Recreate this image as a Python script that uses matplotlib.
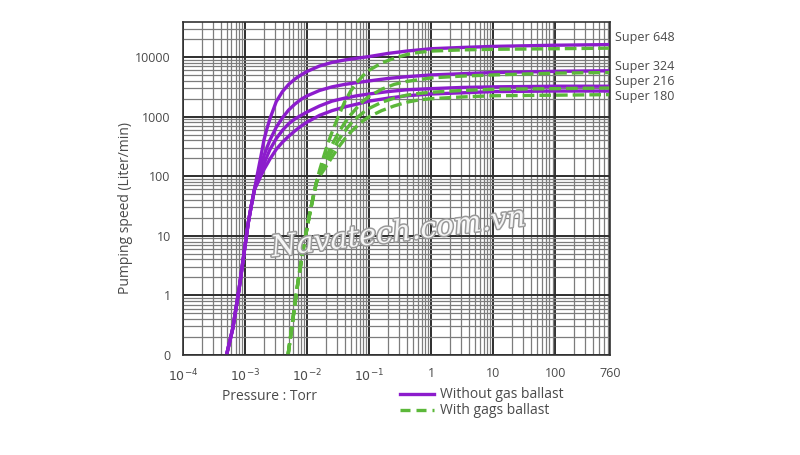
import matplotlib.pyplot as plt
import matplotlib.patheffects as pe
from matplotlib.ticker import LogLocator, FixedLocator, NullFormatter
import numpy as np

plt.rcParams["font.family"] = ["Open Sans", "DejaVu Sans"]

# pressure (Torr) / pumping speed (L/min)
models = ["Super 648", "Super 324", "Super 216", "Super 180"]

# without gas ballast (solid purple) - same pressure points for all models
pressure = [5.0e-4, 6.31e-4, 7.94e-4, 1.0e-3, 1.12e-3, 1.26e-3, 1.41e-3, 1.58e-3, 1.78e-3, 2.0e-3,
            2.24e-3, 2.51e-3, 3.16e-3, 3.98e-3, 5.01e-3, 6.31e-3, 7.94e-3, 1.0e-2, 1.58e-2, 2.51e-2,
            3.98e-2, 6.31e-2, 0.1, 0.2, 0.4, 1, 3.16, 10, 100, 760]
speed_648 = [0.1, 0.28, 1.26, 7.1, 16.6, 33, 60, 112, 209, 400,
             630, 930, 1780, 2630, 3470, 4270, 5010, 5750, 7080, 8130,
             8910, 9550, 10200, 11500, 12600, 13800, 14500, 15100, 15800, 16200]
speed_324 = [0.1, 0.28, 1.26, 7.1, 16.6, 33, 60, 95, 148, 219,
             302, 407, 661, 955, 1290, 1620, 1950, 2240, 2750, 3160,
             3470, 3720, 3980, 4370, 4680, 5010, 5250, 5500, 5750, 5890]
speed_216 = [0.1, 0.28, 1.26, 7.1, 16.6, 33, 60, 83, 117, 158,
             214, 282, 427, 589, 759, 912, 1050, 1200, 1510, 1820,
             2040, 2240, 2400, 2630, 2820, 2950, 3090, 3160, 3240, 3240]
speed_180 = [0.1, 0.28, 1.26, 7.1, 16.6, 33, 60, 76, 100, 129,
             158, 195, 282, 372, 468, 575, 692, 813, 1050, 1260,
             1450, 1620, 1820, 2040, 2240, 2400, 2510, 2630, 2690, 2690]

# with gas ballast (dashed green)
pressure_gb = [4.9e-3, 5.62e-3, 6.31e-3, 7.08e-3, 7.94e-3, 8.91e-3, 1.0e-2, 1.12e-2, 1.26e-2, 1.41e-2,
               1.58e-2, 1.78e-2, 2.0e-2, 2.24e-2, 2.51e-2, 3.16e-2, 3.98e-2, 5.01e-2, 6.31e-2, 7.94e-2,
               0.1, 0.158, 0.251, 0.398, 0.631, 1, 3.16, 10, 100, 760]
speed_gb_648 = [0.1, 0.28, 0.71, 1.66, 3.55, 7.4, 14.1, 26.3, 46.8, 79.4,
                126, 191, 282, 398, 550, 1000, 1740, 2690, 3720, 4900,
                6030, 7940, 9550, 11000, 12000, 12600, 13200, 13500, 13800, 14100]
speed_gb_324 = [0.1, 0.28, 0.71, 1.66, 3.55, 7.4, 14.1, 26.3, 46.8, 79.4,
                112, 151, 200, 263, 339, 525, 776, 1070, 1410, 1820,
                2190, 2880, 3470, 3890, 4170, 4470, 4790, 5010, 5370, 5500]
speed_gb_216 = [0.1, 0.28, 0.71, 1.66, 3.55, 7.4, 14.1, 26.3, 46.8, 79.4,
                105, 132, 166, 209, 263, 398, 562, 759, 955, 1170,
                1380, 1740, 2040, 2290, 2450, 2570, 2750, 2880, 2950, 3020]
speed_gb_180 = [0.1, 0.28, 0.71, 1.66, 3.55, 7.4, 14.1, 26.3, 46.8, 79.4,
                100, 120, 145, 174, 209, 302, 417, 550, 692, 851,
                1000, 1260, 1510, 1740, 1910, 2000, 2140, 2240, 2290, 2340]

label_y = [21500, 6900, 3900, 2200]

x_ticks = [1e-4, 1e-3, 1e-2, 1e-1, 1, 10, 100, 760]
x_labels = ["$10^{-4}$", "$10^{-3}$", "$10^{-2}$", "$10^{-1}$", "1", "10", "100", "760"]
y_ticks = [0.1, 1, 10, 100, 1000, 10000]
y_labels = ["0", "1", "10", "100", "1000", "10000"]

purple = "#8c1ccc"
green = "#5cb83a"
txt = "#4a4a4a"

fig = plt.figure(figsize=(8, 4.55), dpi=100)
ax = fig.add_axes([0.229, 0.22, 0.5335, 0.732])

ax.set_xscale("log")
ax.set_yscale("log")
ax.set_xlim(1e-4, 760)
ax.set_ylim(0.1, 39000)

ax.xaxis.set_minor_locator(LogLocator(base=10, subs=np.arange(2, 10), numticks=100))
ax.yaxis.set_minor_locator(LogLocator(base=10, subs=np.arange(2, 10), numticks=100))
ax.xaxis.set_minor_formatter(NullFormatter())
ax.yaxis.set_minor_formatter(NullFormatter())
ax.grid(True, which="minor", color="#7c7c7c", linewidth=0.9)
ax.grid(True, which="major", color="#2e2e2e", linewidth=1.4)

ax.xaxis.set_major_locator(FixedLocator(x_ticks))
ax.set_xticklabels(x_labels)
ax.yaxis.set_major_locator(FixedLocator(y_ticks))
ax.set_yticklabels(y_labels)
ax.tick_params(which="both", length=0, labelsize=9, colors=txt, pad=9)
for s in ax.spines.values():
    s.set_color("#333333")
    s.set_linewidth(1.2)

for s in [speed_648, speed_324, speed_216, speed_180]:
    ax.plot(pressure, s, color=purple, linewidth=2.4, solid_joinstyle="round")
for s in [speed_gb_648, speed_gb_324, speed_gb_216, speed_gb_180]:
    ax.plot(pressure_gb, s, color=green, linewidth=2.4, linestyle=(0, (3.5, 1.5)))

for name, y in zip(models, label_y):
    ax.text(1.012, y, name, transform=ax.get_yaxis_transform(), fontsize=9,
            color=txt, va="center", ha="left", clip_on=False)

ax.set_ylabel("Pumping speed (Liter/min)", fontsize=10, color=txt)
ax.yaxis.set_label_coords(-0.118, 0.44)

fig.text(0.337, 0.128, "Pressure : Torr", fontsize=10, color=txt, ha="center", va="center")

# legend drawn by hand below the plot
fig.add_artist(plt.Line2D([0.5, 0.542], [0.134, 0.134], color=purple, linewidth=2.4))
fig.add_artist(plt.Line2D([0.5, 0.542], [0.098, 0.098], color=green, linewidth=2.4,
                          linestyle=(0, (3, 1.8))))
fig.text(0.55, 0.134, "Without gas ballast", fontsize=10, color=txt, va="center")
fig.text(0.55, 0.098, "With gags ballast", fontsize=10, color=txt, va="center")

# watermark
fig.text(0.498, 0.488, "Navatech.com.vn", fontsize=21, family="DejaVu Serif", style="italic",
         color="#f6f6f6", ha="center", va="center", rotation=7,
         path_effects=[pe.withStroke(linewidth=2.2, foreground="#9a9a9a")])

fig.savefig("out.png", dpi=100)
